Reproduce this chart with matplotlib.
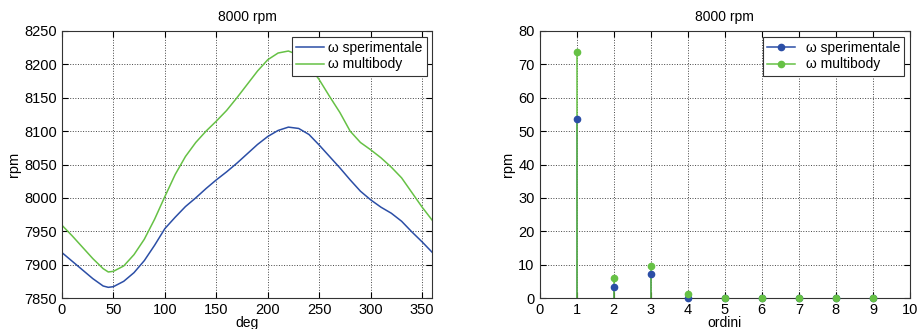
import numpy as np
import matplotlib
matplotlib.use('Agg')
import matplotlib.pyplot as plt
from matplotlib.legend_handler import HandlerLine2D

plt.rcParams['font.family'] = ['Liberation Sans', 'DejaVu Sans']
plt.rcParams['font.size'] = 10

# Dati: velocita angolare in funzione dell'angolo
deg = [0, 10, 20, 30, 40, 45, 50, 60, 70, 80, 90, 100, 110, 120, 130, 140, 150,
       160, 170, 180, 190, 200, 210, 220, 230, 240, 250, 260, 270, 280, 290, 300,
       310, 320, 330, 340, 350, 360]
w_sper = [7918, 7905, 7892, 7879, 7868, 7866, 7867, 7875, 7888, 7906, 7929, 7954,
          7971, 7987, 8000, 8014, 8027, 8039, 8052, 8066, 8080, 8092, 8101,
          8106, 8104, 8095, 8079, 8062, 8045, 8027, 8010, 7997, 7986, 7977,
          7965, 7949, 7934, 7918]
w_multi = [7959, 7943, 7926, 7909, 7894, 7889, 7890, 7898, 7915, 7938, 7968, 8002,
           8035, 8062, 8083, 8100, 8115, 8131, 8150, 8170, 8190, 8207, 8217,
           8220, 8214, 8198, 8177, 8152, 8128, 8100, 8083, 8072, 8060, 8046,
           8030, 8008, 7986, 7966]

# Dati: ampiezze per ordine armonico
ordini = [1, 2, 3, 4, 5, 6, 7, 8, 9]
amp_sper = [53.5, 3.2, 7.2, -0.1, 0.0, 0.0, 0.0, 0.0, 0.0]
amp_multi = [73.6, 5.9, 9.7, 1.1, 0.1, 0.1, 0.1, 0.1, 0.1]

blu = '#2b4ea6'
verde = '#66c145'


class EndMarker(HandlerLine2D):
    # marker all'estremita destra della linea, come in MATLAB
    def get_xdata(self, legend, xdescent, ydescent, width, height, fontsize):
        xdata, _ = super().get_xdata(legend, xdescent, ydescent, width, height, fontsize)
        return xdata, [xdata[-1]]


def stile(ax):
    ax.grid(True, linestyle=':', color='#444444', linewidth=0.7)
    ax.tick_params(direction='in', top=True, right=True, length=4, labelsize=10.5)
    for s in ax.spines.values():
        s.set_linewidth(0.8)
        s.set_color('#333333')


def legenda(ax, handles, labels, **kw):
    leg = ax.legend(handles, labels, loc='upper right', fancybox=False, framealpha=1,
                    edgecolor='#333333', fontsize=10, handlelength=2.0,
                    borderaxespad=0.4, labelspacing=0.2, borderpad=0.3, **kw)
    leg.get_frame().set_linewidth(0.8)
    return leg


fig = plt.figure(figsize=(9.18, 3.29), dpi=100)

# Grafico a sinistra
ax1 = fig.add_axes([0.0675, 0.0942, 0.4036, 0.8116])
l1, = ax1.plot(deg, w_sper, color=blu, linewidth=1.1)
l2, = ax1.plot(deg, w_multi, color=verde, linewidth=1.1)
ax1.set_xlim(0, 360)
ax1.set_ylim(7850, 8250)
ax1.set_xticks(np.arange(0, 351, 50))
ax1.set_yticks(np.arange(7850, 8251, 50))
ax1.set_title('8000 rpm', fontsize=10, pad=7)
ax1.set_xlabel('deg', fontsize=10, labelpad=-0.5)
ax1.set_ylabel('rpm', fontsize=10.5, labelpad=2)
stile(ax1)
legenda(ax1, [l1, l2], ['ω sperimentale', 'ω multibody'], handletextpad=0.3)

# Grafico a destra
ax2 = fig.add_axes([0.5877, 0.0942, 0.4036, 0.8116])
m1, s1, b1 = ax2.stem(ordini, amp_sper, linefmt='-', markerfmt='o', basefmt=' ')
plt.setp(s1, color=blu, linewidth=1.1, zorder=1)
plt.setp(m1, color=blu, markersize=4.5, clip_on=False, zorder=3)
m2, s2, b2 = ax2.stem(ordini, amp_multi, linefmt='-', markerfmt='o', basefmt=' ')
plt.setp(s2, color=verde, linewidth=1.1, zorder=2)
plt.setp(m2, color=verde, markersize=4.5, clip_on=False, zorder=4)
ax2.set_xlim(0, 10)
ax2.set_ylim(0, 80)
ax2.set_xticks(np.arange(0, 11, 1))
ax2.set_yticks(np.arange(0, 81, 10))
ax2.set_title('8000 rpm', fontsize=10, pad=7)
ax2.set_xlabel('ordini', fontsize=10, labelpad=-0.5)
ax2.set_ylabel('rpm', fontsize=10.5, labelpad=2)
stile(ax2)

h1 = plt.Line2D([], [], color=blu, marker='o', markersize=4.5, linewidth=1.1)
h2 = plt.Line2D([], [], color=verde, marker='o', markersize=4.5, linewidth=1.1)
legenda(ax2, [h1, h2], ['ω sperimentale', 'ω multibody'], handletextpad=0.8,
        numpoints=1, handler_map={h1: EndMarker(), h2: EndMarker()})

fig.savefig('out.png', dpi=100)
